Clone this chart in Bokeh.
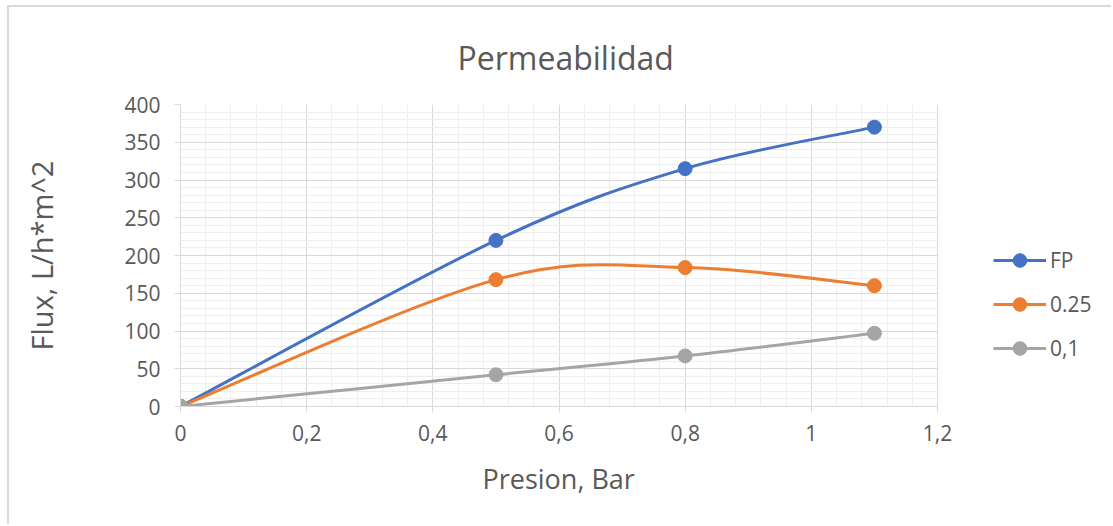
from bokeh.plotting import figure
from bokeh.models import FixedTicker, Legend, LegendItem, CustomJSTickFormatter, Range1d, Title
from bokeh.embed import file_html
from bokeh.resources import INLINE

# Data: pressure (bar) vs. permeate flux (L/h*m^2)
presion = [0.0, 0.5, 0.8, 1.1]
flux_fp = [0, 220, 315, 370]
flux_025 = [0, 168, 184, 160]
flux_01 = [0, 42, 67, 97]

series_names = ["FP", "0.25", "0,1"]
series_colors = ["#4472C4", "#ED7D31", "#A5A5A5"]

x_ticks = [0, 0.2, 0.4, 0.6, 0.8, 1, 1.2]
x_tick_labels = ["0", "0,2", "0,4", "0,6", "0,8", "1", "1,2"]
y_ticks = [0, 50, 100, 150, 200, 250, 300, 350, 400]
x_minor_step = 0.04
y_minor_step = 10
x_max = 1.2
y_max = 400

TEXT = "#595959"
FONT = "Open Sans"

# Canvas geometry: the plotted area is 757 px wide; the frame continues to the
# right so that the legend can sit beside the axes.
W, H = 1104, 519
LEFT, RIGHT, TOP, BOTTOM = 171, 5, 97, 120
PLOT_W = 757
frame_w = W - LEFT - RIGHT
x_end = x_max * frame_w / PLOT_W


def smooth_segments(xs, ys):
    """Cubic Bezier control points for a smoothed polyline through the points."""
    n = len(xs)
    segs = dict(x0=[], y0=[], x1=[], y1=[], cx0=[], cy0=[], cx1=[], cy1=[])
    for i in range(n - 1):
        ip = i - 1 if i > 0 else i
        inn = i + 2 if i + 2 < n else i + 1
        segs["x0"].append(xs[i])
        segs["y0"].append(ys[i])
        segs["x1"].append(xs[i + 1])
        segs["y1"].append(ys[i + 1])
        segs["cx0"].append(xs[i] + (xs[i + 1] - xs[ip]) / 6)
        segs["cy0"].append(ys[i] + (ys[i + 1] - ys[ip]) / 6)
        segs["cx1"].append(xs[i + 1] - (xs[inn] - xs[i]) / 6)
        segs["cy1"].append(ys[i + 1] - (ys[inn] - ys[i]) / 6)
    return segs


p = figure(
    width=W, height=H,
    x_range=Range1d(0, x_end), y_range=Range1d(0, y_max),
    output_backend="svg", toolbar_location=None,
    min_border_left=LEFT, min_border_right=RIGHT,
    min_border_top=TOP, min_border_bottom=BOTTOM,
    margin=(5, 0, 0, 7),
    styles={"border-top": "2px solid #d9d9d9", "border-left": "2px solid #d9d9d9"},
)
p.outline_line_color = None
p.background_fill_color = "white"
p.border_fill_color = "white"

# Ticks and grid
x_minor = [round(i * x_minor_step, 4) for i in range(int(round(x_max / x_minor_step)) + 1)]
x_minor = [v for v in x_minor if all(abs(v - t) > 1e-9 for t in x_ticks)]
y_minor = [i * y_minor_step for i in range(y_max // y_minor_step + 1) if (i * y_minor_step) not in y_ticks]
xt = FixedTicker(ticks=x_ticks, minor_ticks=x_minor)
yt = FixedTicker(ticks=y_ticks, minor_ticks=y_minor)
p.xaxis.ticker = xt
p.yaxis.ticker = yt
p.xgrid.ticker = xt
p.ygrid.ticker = yt
p.xaxis.bounds = (0, x_max)
p.xgrid.bounds = (0, x_max)
p.ygrid.cross_bounds = (0, x_max)
for g in (p.xgrid, p.ygrid):
    g.grid_line_color = "#d9d9d9"
    g.grid_line_width = 1
    g.minor_grid_line_color = "#eeeeee"
    g.minor_grid_line_width = 1

p.xaxis.formatter = CustomJSTickFormatter(
    args=dict(tick_vals=x_ticks, tick_texts=x_tick_labels),
    code="const i = tick_vals.findIndex(t => Math.abs(t - tick) < 1e-9); return i >= 0 ? tick_texts[i] : '';",
)

for ax in (p.xaxis, p.yaxis):
    ax.axis_line_color = "#d9d9d9"
    ax.major_tick_line_color = "#d9d9d9"
    ax.major_tick_in = 0
    ax.major_tick_out = 6
    ax.minor_tick_line_color = None
    ax.major_label_text_font = FONT
    ax.major_label_text_font_size = "21px"
    ax.major_label_text_color = TEXT
    ax.axis_label_text_font = FONT
    ax.axis_label_text_font_size = "29px"
    ax.axis_label_text_color = TEXT
    ax.axis_label_text_font_style = "normal"

p.yaxis.axis_label = "Flux, L/h*m^2"
p.xaxis.major_label_standoff = 12
p.yaxis.major_label_standoff = 14
p.yaxis.axis_label_standoff = 60

# Chart title, placed over the plotted area
p.title.text = "Permeabilidad"
p.title.align = "left"
p.title.offset = 277
p.title.text_font = FONT
p.title.text_font_size = "32px"
p.title.text_font_style = "normal"
p.title.text_color = TEXT
p.title.standoff = 52

# Horizontal axis title, centred under the plotted area
x_title = Title(
    text="Presion, Bar", align="left", offset=302, standoff=28,
    text_font=FONT, text_font_size="27px", text_font_style="normal",
    text_color=TEXT,
)
p.add_layout(x_title, "below")

items = []
for name, ys, color in zip(series_names, [flux_fp, flux_025, flux_01], series_colors):
    segs = smooth_segments(presion, ys)
    r_line = p.bezier(line_color=color, line_width=3, source=segs)
    r_pts = p.scatter(presion, ys, size=14, fill_color=color, line_color=color)
    items.append(LegendItem(label=name, renderers=[r_line, r_pts]))

legend = Legend(
    items=items,
    location=(813, 41),
    orientation="vertical",
    padding=0, margin=0,
    glyph_width=53, glyph_height=34,
    spacing=10, label_standoff=4,
    label_text_font=FONT, label_text_font_size="21px",
    label_text_color=TEXT,
    border_line_color=None, background_fill_alpha=0,
)
p.add_layout(legend, "center")

open("out.html", "w").write(file_html(p, INLINE))
